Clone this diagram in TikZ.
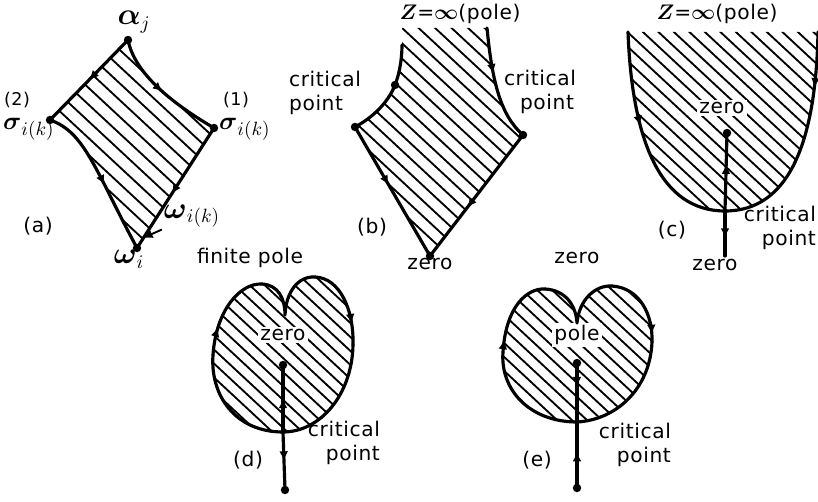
\documentclass[tikz,border=0pt]{standalone}
\usepackage{amsmath}
\usepackage{fontspec}
\setmainfont{DejaVu Sans}[LetterSpace=3]
\usetikzlibrary{arrows.meta,decorations.markings}
\tikzset{
  border/.style={line width=1.8pt, line cap=round, line join=round},
  hatchline/.style={line width=1.05pt},
  flowtip/.style={postaction={decorate, decoration={markings, mark=at position #1 with {\arrow{Latex[length=5.5pt,width=5pt]}}}}},
  critdot/.style={circle, fill, inner sep=0pt, minimum size=4.8pt},
  lab/.style={font=\fontsize{11.5}{14}\selectfont, inner sep=1pt},
  mlab/.style={font=\fontsize{16}{17}\selectfont, inner sep=1pt, align=left},
  holed/.style={lab, fill=white, inner sep=1.5pt}
}
% family of parallel hatch lines: centre x, centre y, horizontal step
\newcommand{\drawhatch}[3]{%
  \foreach \k in {-20,...,20}{\draw[hatchline] ({#1+\k*#3-160},{#2-160*0.93}) -- ({#1+\k*#3+160},{#2+160*0.93});}}

\begin{document}
\begin{tikzpicture}[x={(0.02cm,0)}, y={(0,-0.02cm)}]
  \useasboundingbox (0,0) rectangle (818,502);

  % (a)
  \coordinate (aTop) at (128,40);
  \coordinate (aS1) at (214,128);
  \coordinate (aS2) at (50,120);
  \coordinate (aW) at (137,248);
  \coordinate (aWk) at (143,238);
  \begin{scope}
    \clip (aTop) -- (aS2) .. controls (85,132) and (95,170) .. (aW) -- (aS1) .. controls (175,105) and (135,75) .. (aTop) -- cycle;
    \drawhatch{132}{145}{18}
  \end{scope}
  \draw[border, flowtip=0.5] (aTop) -- (aS2);
  \draw[border, flowtip=0.55] (aS2) .. controls (85,132) and (95,170) .. (aW);
  \draw[border, flowtip=0.5] (aTop) .. controls (135,75) and (175,105) .. (aS1);
  \draw[border, flowtip=0.55] (aS1) -- (aW);
  \node[critdot] (aTopDot) at (aTop) {};
  \node[critdot] (aS1Dot) at (aS1) {};
  \node[critdot] (aS2Dot) at (aS2) {};
  \node[critdot] (aWDot) at (aW) {};
  \node[mlab] (alphaLab) at (134,22) {$\boldsymbol{\alpha}_j$};
  \node[lab, font=\fontsize{10}{12}\selectfont] (twoLab) at (17,100) {(2)};
  \node[mlab, font=\fontsize{15}{16}\selectfont, anchor=west] (sigmaTwo) at (1,129) {$\boldsymbol{\sigma}_{i(k)}$};
  \node[lab, font=\fontsize{10}{12}\selectfont] (oneLab) at (236,100) {(1)};
  \node[mlab, font=\fontsize{15}{16}\selectfont, anchor=west] (sigmaOne) at (217,129) {$\boldsymbol{\sigma}_{i(k)}$};
  \node[mlab] (omegaK) at (192,216) {$\boldsymbol{\omega}_{i(k)}$};
  \node[mlab] (omegaI) at (129,259) {$\boldsymbol{\omega}_i$};
  \draw[-{Latex[length=5.5pt,width=5pt]}, line width=1.1pt] (omegaK.south west) -- (aWk);
  \node[lab] (aTag) at (38,226) {(a)};

  % (b)
  \coordinate (bTL) at (402,45);
  \coordinate (bC) at (395,85);
  \coordinate (bL) at (355,127);
  \coordinate (bZ) at (430,256);
  \coordinate (bR) at (523,135);
  \coordinate (bTR) at (487,28);
  \begin{scope}
    \clip (402,28) -- (bTL) .. controls (402,60) and (399,75) .. (bC) .. controls (388,103) and (372,118) .. (bL)
      -- (bZ) -- (bR) .. controls (500,115) and (492,80) .. (bTR) -- cycle;
    \drawhatch{440}{140}{16.5}
  \end{scope}
  \draw[border] (bTL) .. controls (402,60) and (399,75) .. (bC) .. controls (388,103) and (372,118) .. (bL);
  \draw[border, flowtip=0.45] (bL) -- (bZ);
  \draw[border, flowtip=0.6] (bR) -- (bZ);
  \draw[border, flowtip=0.4] (bTR) .. controls (492,80) and (500,115) .. (bR);
  \node[critdot] (bCDot) at (bC) {};
  \node[critdot] (bLDot) at (bL) {};
  \node[critdot] (bRDot) at (bR) {};
  \node[critdot] (bZDot) at (bZ) {};
  \node[lab] (bPole) at (460,14) {$\boldsymbol{Z}$=$\boldsymbol{\infty}$(pole)};
  \node[lab, align=left, anchor=west] (bCritL) at (287,93) {critical\\point};
  \node[lab, align=center] (bCritR) at (540,92) {critical\\\hspace*{8pt}point};
  \node[lab] (bTag) at (372,227) {(b)};
  \node[lab] (bZero) at (430,264) {zero};

  % (c)
  \coordinate (cTL) at (628,32);
  \coordinate (cCr) at (725,211);
  \coordinate (cTR) at (818,32);
  \coordinate (cZ) at (727,133);
  \coordinate (cZb) at (725,256);
  \begin{scope}
    \clip (cTL) .. controls (632,140) and (660,211) .. (cCr) .. controls (790,211) and (816,140) .. (cTR) -- cycle;
    \drawhatch{722}{120}{15.5}
  \end{scope}
  \node[holed] (cZero) at (722,108) {zero};
  \draw[border, flowtip=0.42] (cTL) .. controls (632,140) and (660,211) .. (cCr);
  \draw[border, flowtip=0.25] (cTR) .. controls (816,140) and (790,211) .. (cCr);
  \draw[border, flowtip=0.6] (cCr) -- (cZ);
  \draw[border, flowtip=0.6] (cCr) -- (cZb);
  \node[critdot] (cZDot) at (cZ) {};
  \node[lab] (cPole) at (717,14) {$\boldsymbol{Z}$=$\boldsymbol{\infty}$(pole)};
  \node[lab, align=right, anchor=east] (cCrit) at (818,228) {critical\\point};
  \node[lab] (cTag) at (672,230) {(c)};
  \node[lab] (cZeroB) at (715,265) {zero};

  % (d)
  \coordinate (dCr) at (283,432);
  \coordinate (dLx) at (213,355);
  \coordinate (dLt) at (262,284);
  \coordinate (dCu) at (285,315);
  \coordinate (dRt) at (315,277);
  \coordinate (dRx) at (353,345);
  \coordinate (dZ) at (283,365);
  \coordinate (dEnd) at (285,490);
  \begin{scope}
    \clip (dCr) .. controls (235,432) and (210,395) .. (dLx) .. controls (216,310) and (240,283) .. (dLt)
      .. controls (278,285) and (285,298) .. (dCu) .. controls (286,292) and (298,276) .. (dRt)
      .. controls (340,278) and (354,310) .. (dRx) .. controls (352,395) and (320,432) .. (dCr);
    \drawhatch{283}{358}{15}
  \end{scope}
  \node[holed] (dZero) at (283,335) {zero};
  \draw[border] (dCr) .. controls (235,432) and (210,395) .. (dLx);
  \draw[border, flowtip=0.3] (dLx) .. controls (216,310) and (240,283) .. (dLt);
  \draw[border] (dLt) .. controls (278,285) and (285,298) .. (dCu) .. controls (286,292) and (298,276) .. (dRt);
  \draw[border, flowtip=0.75] (dRt) .. controls (340,278) and (354,310) .. (dRx);
  \draw[border] (dRx) .. controls (352,395) and (320,432) .. (dCr);
  \draw[border, flowtip=0.5] (dCr) -- (dZ);
  \draw[border, flowtip=0.5] (dCr) -- (dEnd);
  \node[critdot] (dZDot) at (dZ) {};
  \node[critdot] (dEndDot) at (dEnd) {};
  \node[lab] (dPole) at (250,258) {finite pole};
  \node[lab, align=right, anchor=east] (dCrit) at (382,443) {critical\\point};
  \node[lab] (dTag) at (248,460) {(d)};

  % (e)
  \coordinate (eCr) at (577,422);
  \coordinate (eLx) at (503,352);
  \coordinate (eLt) at (545,289);
  \coordinate (eCu) at (577,323);
  \coordinate (eRt) at (612,286);
  \coordinate (eRx) at (652,342);
  \coordinate (eP) at (577,363);
  \coordinate (eEnd) at (577,488);
  \begin{scope}
    \clip (eCr) .. controls (530,422) and (500,390) .. (eLx) .. controls (506,305) and (528,288) .. (eLt)
      .. controls (565,290) and (576,305) .. (eCu) .. controls (579,300) and (595,285) .. (eRt)
      .. controls (640,288) and (653,315) .. (eRx) .. controls (650,390) and (615,420) .. (eCr);
    \drawhatch{577}{355}{15}
  \end{scope}
  \node[holed] (ePole) at (577,335) {pole};
  \draw[border] (eCr) .. controls (530,422) and (500,390) .. (eLx);
  \draw[border, flowtip=0.15] (eLx) .. controls (506,305) and (528,288) .. (eLt);
  \draw[border] (eLt) .. controls (565,290) and (576,305) .. (eCu) .. controls (579,300) and (595,285) .. (eRt);
  \draw[border, flowtip=0.9] (eRt) .. controls (640,288) and (653,315) .. (eRx);
  \draw[border] (eRx) .. controls (650,390) and (615,420) .. (eCr);
  \draw[border, flowtip=0.4] (eP) -- (eCr);
  \draw[border, flowtip=0.55] (eEnd) -- (eCr);
  \node[critdot] (ePDot) at (eP) {};
  \node[critdot] (eEndDot) at (eEnd) {};
  \node[lab] (eZero) at (577,258) {zero};
  \node[lab, align=right, anchor=east] (eCrit) at (673,445) {critical\\point};
  \node[lab] (eTag) at (537,460) {(e)};
\end{tikzpicture}
\end{document}
